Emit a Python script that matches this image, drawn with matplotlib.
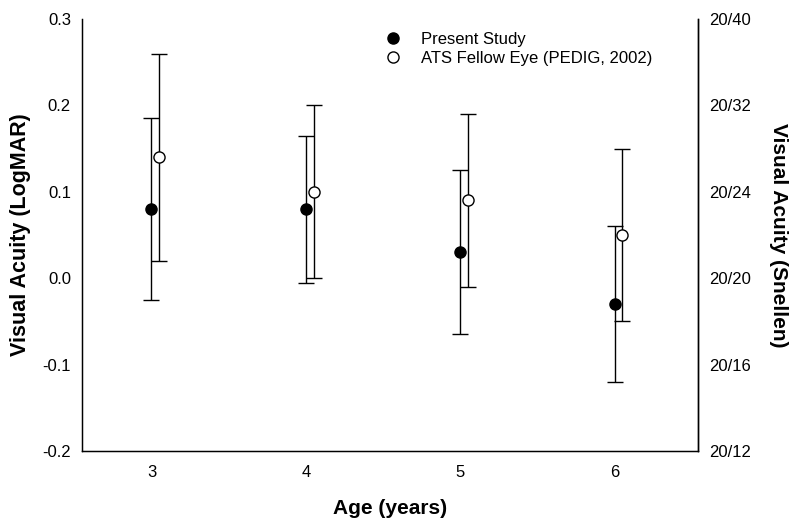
import matplotlib
matplotlib.use("Agg")
import matplotlib.pyplot as plt

plt.rcParams['font.family'] = ['Liberation Sans', 'DejaVu Sans']

ages = [3, 4, 5, 6]
present_mean = [0.08, 0.08, 0.03, -0.03]
present_err = [0.105, 0.085, 0.095, 0.09]
ats_mean = [0.14, 0.10, 0.09, 0.05]
ats_err = [0.12, 0.10, 0.10, 0.10]
ats_offset = 0.05

y_ticks = [-0.2, -0.1, 0.0, 0.1, 0.2, 0.3]
y_ticklabels = ['-0.2', '-0.1', '0.0', '0.1', '0.2', '0.3']
snellen_labels = ['20/12', '20/16', '20/20', '20/24', '20/32', '20/40']

fig = plt.figure(figsize=(8, 5.26), dpi=100)
ax = fig.add_axes([82/800, 1-451/526, 616/800, 432/526])

ax.errorbar(ages, present_mean, yerr=present_err, fmt='o', color='black',
            mfc='black', mec='black', ms=8, ecolor='black', elinewidth=1,
            capsize=6, capthick=1, label='Present Study', zorder=3)
ats_x = [a + ats_offset for a in ages]
ax.errorbar(ats_x, ats_mean, yerr=ats_err, fmt='o', color='black',
            mfc='white', mec='black', ms=8, mew=1, ecolor='black', elinewidth=1,
            capsize=6, capthick=1, label='ATS Fellow Eye (PEDIG, 2002)', zorder=3)

ax.set_xlim(2.55, 6.54)
ax.set_ylim(-0.2, 0.3)
ax.set_xticks(ages)
ax.set_xticklabels([str(a) for a in ages])
ax.set_yticks(y_ticks)
ax.set_yticklabels(y_ticklabels)
ax.tick_params(axis='x', length=0, labelsize=12, pad=10)
ax.tick_params(axis='y', length=0, labelsize=12, pad=8)
ax.spines['top'].set_visible(False)
for s in ['left', 'bottom', 'right']:
    ax.spines[s].set_linewidth(1)
    ax.spines[s].set_color('black')

ax.set_xlabel('Age (years)', fontsize=15, fontweight='bold', labelpad=14)
ax.set_ylabel('Visual Acuity (LogMAR)', fontsize=15.5, fontweight='bold', labelpad=8)

ax2 = ax.twinx()
ax2.set_ylim(-0.2, 0.3)
ax2.set_yticks(y_ticks)
ax2.set_yticklabels(snellen_labels)
ax2.tick_params(axis='y', length=0, labelsize=12, pad=8)
ax2.spines['top'].set_visible(False)
ax2.spines['right'].set_linewidth(1)
ax2.set_ylabel('Visual Acuity (Snellen)', fontsize=15, fontweight='bold',
               rotation=270, labelpad=27)

handles, labels = ax.get_legend_handles_labels()
handles = [h[0] for h in handles]
leg = ax.legend(handles, labels, loc='upper left', bbox_to_anchor=(0.48, 0.985),
                frameon=False, fontsize=12, handlelength=1, handletextpad=1.2,
                labelspacing=0.25, borderaxespad=0)

fig.savefig('out.png', dpi=100)
